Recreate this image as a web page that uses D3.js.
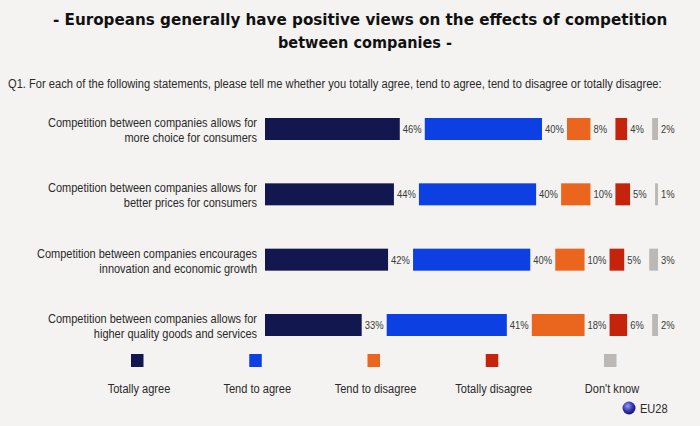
<!DOCTYPE html>
<html>
<head>
<meta charset="utf-8">
<script src="https://cdn.jsdelivr.net/npm/d3@7"></script>
<style>
  body { margin: 0; background: #f4f3f1; }
  text { font-family: "Liberation Sans", Arial, sans-serif; }
</style>
</head>
<body>
<div id="chart"></div>
<script>
var categories = [
  ["Competition between companies allows for", "more choice for consumers"],
  ["Competition between companies allows for", "better prices for consumers"],
  ["Competition between companies encourages", "innovation and economic growth"],
  ["Competition between companies allows for", "higher quality goods and services"]
];
var seriesNames = ["Totally agree", "Tend to agree", "Tend to disagree", "Totally disagree", "Don't know"];
var totallyAgree    = [46, 44, 42, 33];
var tendToAgree     = [40, 40, 40, 41];
var tendToDisagree  = [8, 10, 10, 18];
var totallyDisagree = [4, 5, 5, 6];
var dontKnow        = [2, 1, 3, 2];
var colors = ["#13174f", "#0c40e2", "#ea661e", "#c5230b", "#bcb8b6"];

var series = [totallyAgree, tendToAgree, tendToDisagree, totallyDisagree, dontKnow];

var width = 700, height = 426;
var svg = d3.select("#chart").append("svg")
    .attr("width", width)
    .attr("height", height);

svg.append("rect").attr("width", width).attr("height", height).attr("fill", "#f4f3f1");

// condensed-looking text: draw at origin and squeeze horizontally
function label(x, y, str, size, anchor, sx, fill, weight) {
  return svg.append("text")
    .attr("transform", `translate(${x},${y}) scale(${sx},1)`)
    .attr("text-anchor", anchor)
    .attr("font-size", size + "px")
    .attr("font-weight", weight || "normal")
    .attr("fill", fill)
    .text(str);
}
function fit(sel, x, y, w, anchor) {
  var len = sel.node().getComputedTextLength();
  sel.attr("transform", `translate(${x},${y}) scale(${w / len},1)`).attr("text-anchor", anchor);
}

// title
var t1 = label(0, 0, "- Europeans generally have positive views on the effects of competition", 16, "start", 1, "#111", "bold")
  .style("font-family", "'DejaVu Sans', Verdana, sans-serif");
fit(t1, 53, 25, 615, "start");
var t2 = label(0, 0, "between companies -", 16, "start", 1, "#111", "bold")
  .style("font-family", "'DejaVu Sans', Verdana, sans-serif");
fit(t2, 278, 48, 174, "start");

var q = label(0, 0, "Q1. For each of the following statements, please tell me whether you totally agree, tend to agree, tend to disagree or totally disagree:", 12.5, "start", 1, "#2a2a2a");
fit(q, 8, 88, 654, "start");

var xScale = d3.scaleLinear().domain([0, 100]).range([0, 293]);
var yScale = d3.scalePoint().domain(d3.range(categories.length)).range([129, 325]);
var x0 = 265, gap = 25, barH = 22;

categories.forEach(function(lines, r) {
  var cy = yScale(r);
  label(257, cy - 2, lines[0], 12.5, "end", 0.88, "#2a2a2a");
  label(257, cy + 13, lines[1], 12.5, "end", 0.88, "#2a2a2a");

  var acc = 0;
  series.forEach(function(s, i) {
    var start = x0 + xScale(acc) + i * gap;
    var w = xScale(s[r]);
    svg.append("rect")
      .attr("x", start)
      .attr("y", cy - barH / 2)
      .attr("width", w)
      .attr("height", barH)
      .attr("fill", colors[i]);
    label(start + w + 3, cy + 4, s[r] + "%", 11.5, "start", 0.82, "#3a3a3a");
    acc += s[r];
  });
});

// legend
var legX = d3.scalePoint().domain(seriesNames).range([137, 610]);
seriesNames.forEach(function(n, i) {
  svg.append("rect")
    .attr("x", legX(n) - 6)
    .attr("y", 354)
    .attr("width", 12.5)
    .attr("height", 13)
    .attr("fill", colors[i]);
  label(legX(n) + 2, 393, n, 13.5, "middle", 0.82, "#2a2a2a");
});

// EU28 badge
var grad = svg.append("defs").append("radialGradient")
  .attr("id", "globe").attr("cx", "40%").attr("cy", "35%").attr("r", "65%");
grad.append("stop").attr("offset", "0%").attr("stop-color", "#9a9af0");
grad.append("stop").attr("offset", "60%").attr("stop-color", "#3434b0");
grad.append("stop").attr("offset", "100%").attr("stop-color", "#15156a");
svg.append("circle").attr("cx", 629).attr("cy", 408).attr("r", 6.5).attr("fill", "url(#globe)");
label(640, 413, "EU28", 13, "start", 0.85, "#2a2a2a");
</script>
</body>
</html>
